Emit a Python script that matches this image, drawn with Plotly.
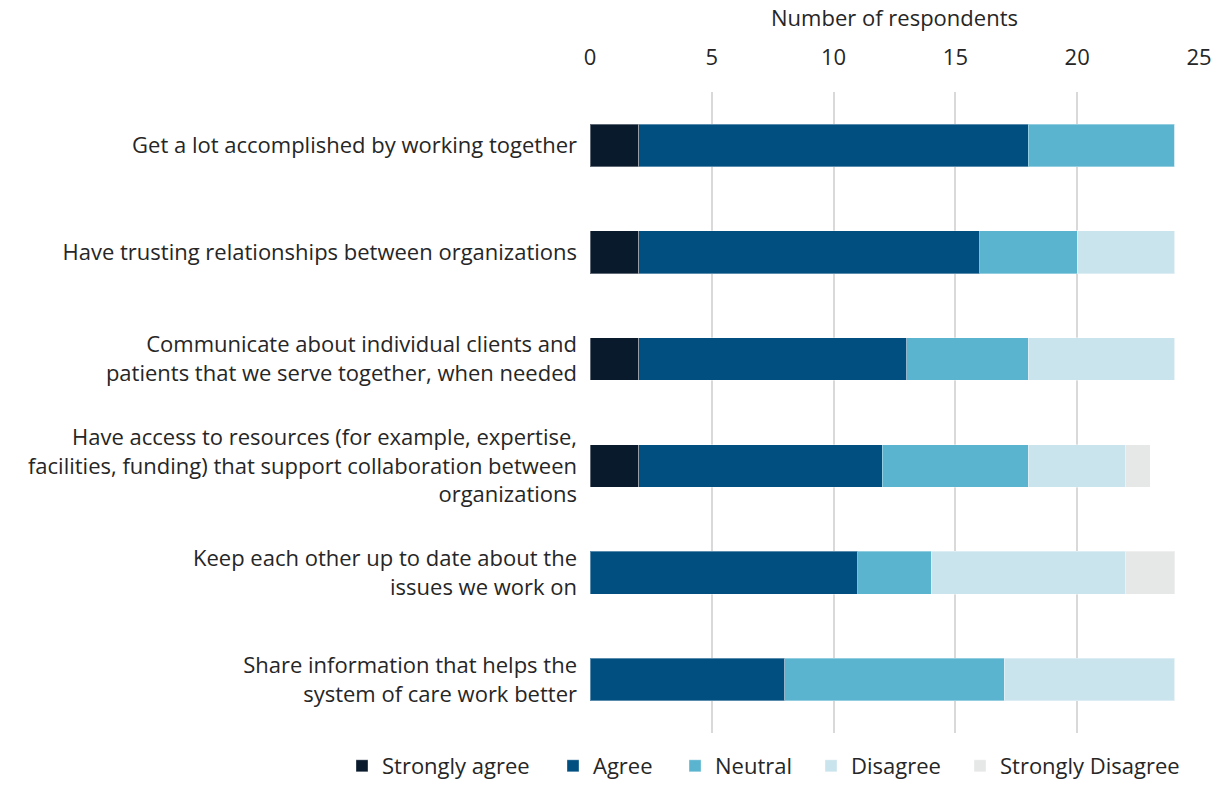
import plotly.graph_objects as go

statements = [
    "Get a lot accomplished by working together",
    "Have trusting relationships between organizations",
    "Communicate about individual clients and<br>patients that we serve together, when needed",
    "Have access to resources (for example, expertise,<br>facilities, funding) that support collaboration between<br>organizations",
    "Keep each other up to date about the<br>issues we work on",
    "Share information that helps the<br>system of care work better",
]

strongly_agree = [2, 2, 2, 2, 0, 0]
agree = [16, 14, 11, 10, 11, 8]
neutral = [6, 4, 5, 6, 3, 9]
disagree = [0, 4, 6, 4, 8, 7]
strongly_disagree = [0, 0, 0, 1, 2, 0]

series = [
    ("Strongly agree", strongly_agree, "#0a1a2d"),
    ("Agree", agree, "#014f81"),
    ("Neutral", neutral, "#5ab4cf"),
    ("Disagree", disagree, "#cae4ee"),
    ("Strongly Disagree", strongly_disagree, "#e6e7e7"),
]

# one legend per response level so the entries can be spaced along the bottom
legend_x = [0.2794, 0.4518, 0.5515, 0.6626, 0.7843]

font_family = "Open Sans, Noto Sans, sans-serif"
fs = 22

fig = go.Figure()
legend_layout = {}
for i, ((name, vals, color), lx) in enumerate(zip(series, legend_x)):
    key = "legend" if i == 0 else f"legend{i + 1}"
    fig.add_trace(go.Bar(
        y=statements, x=vals, name=name, orientation="h",
        marker=dict(color=color, line=dict(color="rgba(255,255,255,0.35)", width=1)),
        width=0.4, legend=key, showlegend=True,
    ))
    legend_layout[key] = dict(
        orientation="h", xref="container", yref="container",
        x=lx, xanchor="left", y=-0.008, yanchor="bottom",
        font=dict(size=fs), itemwidth=30, bgcolor="rgba(0,0,0,0)",
    )

fig.update_layout(
    barmode="stack",
    showlegend=True,
    width=1224, height=787,
    margin=dict(l=590, r=24, t=92, b=49),
    paper_bgcolor="white", plot_bgcolor="white",
    font=dict(family=font_family, size=fs, color="#262626"),
    xaxis=dict(
        side="top", range=[0, 25], dtick=5, showgrid=True,
        gridcolor="#d9d9d9", gridwidth=1.5, zeroline=False,
        title=dict(text="Number of respondents", standoff=7, font=dict(size=fs)),
        tickfont=dict(size=fs), ticks="", ticklabelstandoff=22,
    ),
    yaxis=dict(
        autorange="reversed", showgrid=False, zeroline=False,
        tickfont=dict(size=fs), ticks="", ticklabelstandoff=12,
    ),
    bargap=0.6,
    **legend_layout,
)

fig.write_html("out.html")
